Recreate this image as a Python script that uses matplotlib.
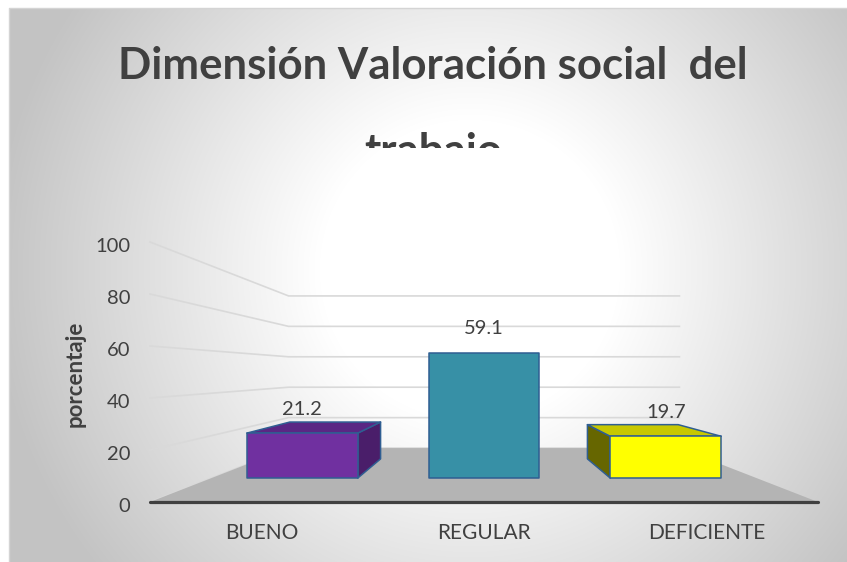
"""Perspective column chart: Dimensión Valoración social del trabajo."""

import matplotlib

matplotlib.use("Agg")
import matplotlib.pyplot as plt
import numpy as np
from matplotlib.patches import Polygon
from matplotlib.transforms import Bbox, TransformedBbox

# Data
categories = ["BUENO", "REGULAR", "DEFICIENTE"]
values = [21.2, 59.1, 19.7]
y_ticks = [0, 20, 40, 60, 80, 100]
title_lines = ["Dimensión Valoración social  del", "trabajo"]
y_label = "porcentaje"

# Styling
FONT = "Lato"
TEXT = "#404040"
GRID = "#d9d9d9"
FLOOR = "#b4b4b4"
EDGE = "#2f5e92"
BAR_STYLE = [
    {"front": "#7030a0", "top": "#5a2784", "side": "#4a1e6a"},
    {"front": "#3790a6", "top": "#2f7f93", "side": "#2a7386"},
    {"front": "#ffff00", "top": "#c8c800", "side": "#666600"},
]

# Canvas (pixels) and perspective set-up
W, H = 847, 562
VAN_X, VAN_Y = 484.0, 372.0  # vanishing point
FRONT_LEFT, FRONT_RIGHT = 150.0, 818.0
FLOOR_Y = 502.0
Z_SCALE = 2.6  # px per percent on the front plane
PERSP = 0.709  # depth foreshortening (back plane scale = 1 / (1 + PERSP))
HALF_W = 0.305  # bar half width, in category slots
BAR_T0, BAR_T1 = 0.318, 0.70  # bar depth range (0 = front, 1 = back wall)

n = len(categories)
SLOT_W = (FRONT_RIGHT - FRONT_LEFT) / n


def project(c, z, t):
    """Map (category pos, value, depth) to canvas pixels."""
    s = 1.0 / (1.0 + PERSP * t)
    x = VAN_X + (FRONT_LEFT + (c + 0.5) * SLOT_W - VAN_X) * s
    y = VAN_Y + (FLOOR_Y - z * Z_SCALE - VAN_Y) * s
    return x, y


fig = plt.figure(figsize=(W / 100, H / 100), dpi=100, facecolor="white")
ax = fig.add_axes([0, 0, 1, 1])
ax.set_xlim(0, W)
ax.set_ylim(H, 0)
ax.axis("off")

# Radial grey background of the chart area
x0, y0 = 9, 8
xx, yy = np.meshgrid(np.arange(x0, W) + 0.5, np.arange(y0, H) + 0.5)
dist = np.hypot(xx - 470, yy - 270)
level = 255 - 60 * np.clip((dist - 150) / 330, 0, 1)
bg = np.dstack([level, level, level]) / 255.0
ax.imshow(bg, extent=(x0, W, H, y0), origin="upper", interpolation="bilinear", zorder=0)
ax.plot([x0, x0, W], [H, y0, y0], color="#d4d4d4", lw=1, zorder=1)

# Gridlines on the side and back walls
c_left, c_right = -0.5, n - 0.5
for z in y_ticks:
    pts = [project(c_left, z, 0), project(c_left, z, 1), project(c_right, z, 1)]
    ax.plot([p[0] for p in pts], [p[1] for p in pts], color=GRID, lw=1.2, zorder=2)
    xl, yl = project(c_left, z, 0)
    ax.text(xl - 20, yl + 4, str(z), ha="right", va="center", fontsize=14.5,
            color=TEXT, family=FONT, zorder=5)

# Floor
floor = [project(c_left, 0, 0), project(c_right, 0, 0),
         project(c_right, 0, 1), project(c_left, 0, 1)]
ax.add_patch(Polygon(floor, closed=True, facecolor=FLOOR, edgecolor="none", zorder=3))
fx = [floor[0][0], floor[1][0]]
fy = [floor[0][1], floor[1][1]]
ax.plot(fx, fy, color="#404040", lw=2.3, solid_capstyle="round", zorder=6)

# Bars
for i, (v, st) in enumerate(zip(values, BAR_STYLE)):
    c0, c1 = i - HALF_W, i + HALF_W
    faces = []
    if project(c1, 0, BAR_T0)[0] < VAN_X:
        faces.append(([project(c1, 0, BAR_T0), project(c1, 0, BAR_T1),
                       project(c1, v, BAR_T1), project(c1, v, BAR_T0)], st["side"]))
    if project(c0, 0, BAR_T0)[0] > VAN_X:
        faces.append(([project(c0, 0, BAR_T0), project(c0, 0, BAR_T1),
                       project(c0, v, BAR_T1), project(c0, v, BAR_T0)], st["side"]))
    if FLOOR_Y - v * Z_SCALE > VAN_Y:
        faces.append(([project(c0, v, BAR_T0), project(c1, v, BAR_T0),
                       project(c1, v, BAR_T1), project(c0, v, BAR_T1)], st["top"]))
    faces.append(([project(c0, 0, BAR_T0), project(c1, 0, BAR_T0),
                   project(c1, v, BAR_T0), project(c0, v, BAR_T0)], st["front"]))
    for pts, col in faces:
        ax.add_patch(Polygon(pts, closed=True, facecolor=col, edgecolor=EDGE,
                             lw=1.1, joinstyle="round", zorder=4))

    # value label above the front face
    lx, ly = project(i, v, BAR_T0)
    ax.text(lx, ly - 24, f"{v:.1f}", ha="center", va="center", fontsize=14.5,
            color=TEXT, family=FONT, zorder=5)

    # category label below the front axis
    cx, cy = project(i, 0, 0)
    ax.text(cx, cy + 31, categories[i], ha="center", va="center", fontsize=15,
            color=TEXT, family=FONT, zorder=5)

# Axis title
ax.text(75, 374, y_label, rotation=90, ha="center", va="center", fontsize=16,
        fontweight="bold", color=TEXT, family=FONT, zorder=5)

# Chart title (second line is cut off by the plot area, as in the original)
ax.text(433, 79, title_lines[0], ha="center", va="baseline", fontsize=31.5,
        fontweight="bold", color=TEXT, family=FONT, zorder=5)
t2 = ax.text(433, 164, title_lines[1], ha="center", va="baseline", fontsize=31.5,
             fontweight="bold", color=TEXT, family=FONT, zorder=5)
t2.set_clip_box(TransformedBbox(Bbox([[0, 0], [W, 148]]), ax.transData))
t2.set_clip_on(True)

fig.savefig("out.png", dpi=100, facecolor="white")
